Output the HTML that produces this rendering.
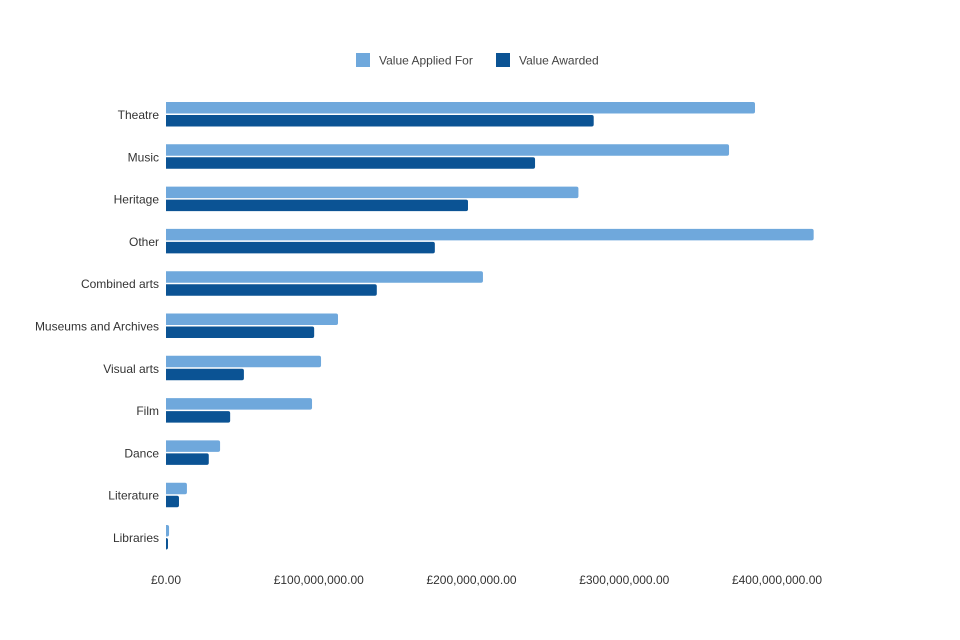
<!DOCTYPE html>
<html><head><meta charset="utf-8"><style>
body{margin:0;background:#fff;}
svg{display:block;font-family:"Liberation Sans",sans-serif;}
</style></head><body>
<svg id="chart" width="960" height="640">
<g>
<rect x="356" y="53" width="14" height="14" fill="#6fa8dc"/>
<text x="379" y="64.5" font-size="12" fill="#444">Value Applied For</text>
<rect x="496" y="53" width="14" height="14" fill="#0b5394"/>
<text x="519" y="64.5" font-size="12" fill="#444">Value Awarded</text>
</g>
<g id="bars"></g>
<g id="ylabels"></g>
<g id="xticks"></g>
</svg>
<script>
const categories=["Theatre","Music","Heritage","Other","Combined arts","Museums and Archives","Visual arts","Film","Dance","Literature","Libraries"];
const applied=[385.6,368.6,270,424,207.5,112.6,101.5,95.6,35.4,13.7,2];
const awarded=[280,241.6,197.7,176,138,97,51,42,28,8.5,1.3];
const tickValues=[0,100,200,300,400];
const tickLabels=["£0.00","£100,000,000.00","£200,000,000.00","£300,000,000.00","£400,000,000.00"];
const NS="http://www.w3.org/2000/svg";
const x0=166,pxPer=1.5275,top0=102,step=42.3,bh=11.5;
const xs=v=>x0+v*pxPer;
function mk(t,a,p){const e=document.createElementNS(NS,t);for(const k in a)e.setAttribute(k,a[k]);p.appendChild(e);return e;}
const bars=document.getElementById('bars'),yl=document.getElementById('ylabels'),xt=document.getElementById('xticks');
function bar(v,y,c){const w=Math.max(xs(v)-x0,1.5);const d=`M${x0},${y}h${w-2}q2,0 2,2v${bh-4}q0,2 -2,2h${-(w-2)}z`;return mk('path',{d:d,fill:c},bars);}
categories.forEach((c,i)=>{
 const y=top0+i*step;
 const a=bar(applied[i],y,'#6fa8dc');
 
 
 const b=bar(awarded[i],y+bh+1.5,'#0b5394');
 
 
 const t=mk('text',{x:159,y:y+17,'text-anchor':'end','font-size':12,fill:'#333'},yl);
 t.textContent=c;
 
 
});
tickValues.forEach((v,i)=>{
 const t=mk('text',{x:xs(v),y:584,'text-anchor':'middle','font-size':12,fill:'#333'},xt);
 t.textContent=tickLabels[i];
 
 
});
</script>
</body></html>
